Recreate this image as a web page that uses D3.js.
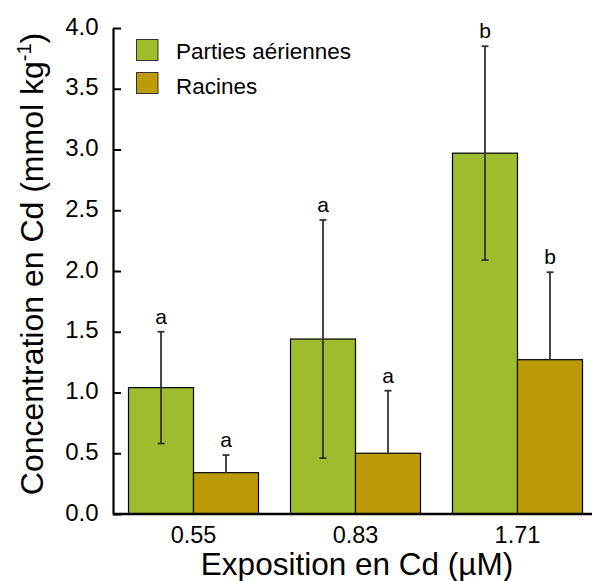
<!DOCTYPE html>
<html><head><meta charset="utf-8">
<script src="https://cdn.jsdelivr.net/npm/d3@7"></script>
<style>
html,body{margin:0;padding:0;background:#fff;}
text{font-family:"Liberation Sans",Arial,sans-serif;fill:#000;}
</style></head>
<body><svg id="c" width="592" height="581"></svg>
<script>
const categories = ["0.55", "0.83", "1.71"];
const series = ["Parties aériennes", "Racines"];
const shootValues = [1.04, 1.44, 2.97];
const shootErrors = [0.46, 0.98, 0.88];
const rootValues = [0.34, 0.50, 1.27];
const rootErrors = [0.145, 0.515, 0.72];
const shootLetters = ["a", "a", "b"];
const rootLetters = ["a", "a", "b"];
const yTicks = [0, 0.5, 1, 1.5, 2, 2.5, 3, 3.5, 4];
const colors = ["#9FBC2F", "#BD9A08"];

const svg = d3.select("#c");
const x0 = 113, yTop = 28, yBot = 514;
const y = d3.scaleLinear().domain([0, 4]).range([yBot, yTop]);
const x = d3.scaleBand().domain(categories).range([x0, 598]).paddingInner(0.1975).paddingOuter(0.0957);
const xs = d3.scaleBand().domain(series).range([0, x.bandwidth()]);

const data = [];
categories.forEach((c, i) => {
  data.push({c, s: series[0], v: shootValues[i], e: shootErrors[i], l: shootLetters[i], both: true});
  data.push({c, s: series[1], v: rootValues[i], e: rootErrors[i], l: rootLetters[i], both: false});
});

// bars
svg.append("g").selectAll("rect").data(data).join("rect")
  .attr("x", d => x(d.c) + xs(d.s))
  .attr("y", d => y(d.v))
  .attr("width", xs.bandwidth())
  .attr("height", d => yBot - y(d.v))
  .attr("fill", d => colors[series.indexOf(d.s)])
  .attr("stroke", "#000").attr("stroke-width", 1.2);

// error bars
const eg = svg.append("g").attr("stroke", "#333").attr("stroke-width", 1.8);
data.forEach(d => {
  const cx = x(d.c) + xs(d.s) + xs.bandwidth() / 2;
  const top = y(d.v + d.e), bot = d.both ? y(d.v - d.e) : y(d.v);
  eg.append("line").attr("x1", cx).attr("x2", cx).attr("y1", top).attr("y2", bot);
  eg.append("line").attr("x1", cx - 3.5).attr("x2", cx + 3.5).attr("y1", top).attr("y2", top);
  if (d.both) eg.append("line").attr("x1", cx - 3.5).attr("x2", cx + 3.5).attr("y1", bot).attr("y2", bot);
  svg.append("text").attr("x", cx).attr("y", top - 8).attr("text-anchor", "middle")
    .attr("font-size", 21).text(d.l);
});

// y axis
const ya = svg.append("g").attr("transform", `translate(${x0},0)`)
  .call(d3.axisRight(y).tickValues(yTicks).tickFormat(d3.format(".1f")).tickSize(8).tickSizeOuter(0));
ya.select(".domain").attr("stroke-width", 2.2);
ya.selectAll(".tick line").attr("stroke-width", 2);
ya.selectAll(".tick text").attr("x", -14.5).attr("text-anchor", "end").attr("dy", "0.25em")
  .attr("font-size", 24).attr("font-family", "Liberation Sans, Arial, sans-serif").attr("fill", "#000");

// x axis
const xa = svg.append("g").attr("transform", `translate(0,${yBot})`)
  .call(d3.axisBottom(x).tickSize(0).tickSizeOuter(0));
xa.select(".domain").attr("d", `M${x0},0H592`).attr("stroke-width", 2.4);
xa.selectAll(".tick text").attr("y", 28.5).attr("dy", "0")
  .attr("font-size", 23.5).attr("font-family", "Liberation Sans, Arial, sans-serif").attr("fill", "#000");

// titles
svg.append("text").attr("x", 357).attr("y", 575).attr("text-anchor", "middle")
  .attr("font-size", 31.5).text("Exposition en Cd (µM)");
const yt = svg.append("text").attr("transform", "translate(43,264) rotate(-90)")
  .attr("text-anchor", "middle").attr("font-size", 32);
yt.append("tspan").text("Concentration en Cd (mmol kg");
yt.append("tspan").attr("font-size", 20).attr("dy", -12).text("-1");
yt.append("tspan").attr("dy", 12).text(")");

// legend
const lg = svg.append("g");
series.forEach((s, i) => {
  lg.append("rect").attr("x", 136.5).attr("y", 39.5 + i * 33).attr("width", 21.5).attr("height", 21)
    .attr("fill", colors[i]).attr("stroke", "#333").attr("stroke-width", 1);
  lg.append("text").attr("x", 176).attr("y", 59.3 + i * 34.7).attr("font-size", 22.5).text(s);
});
</script></body></html>
